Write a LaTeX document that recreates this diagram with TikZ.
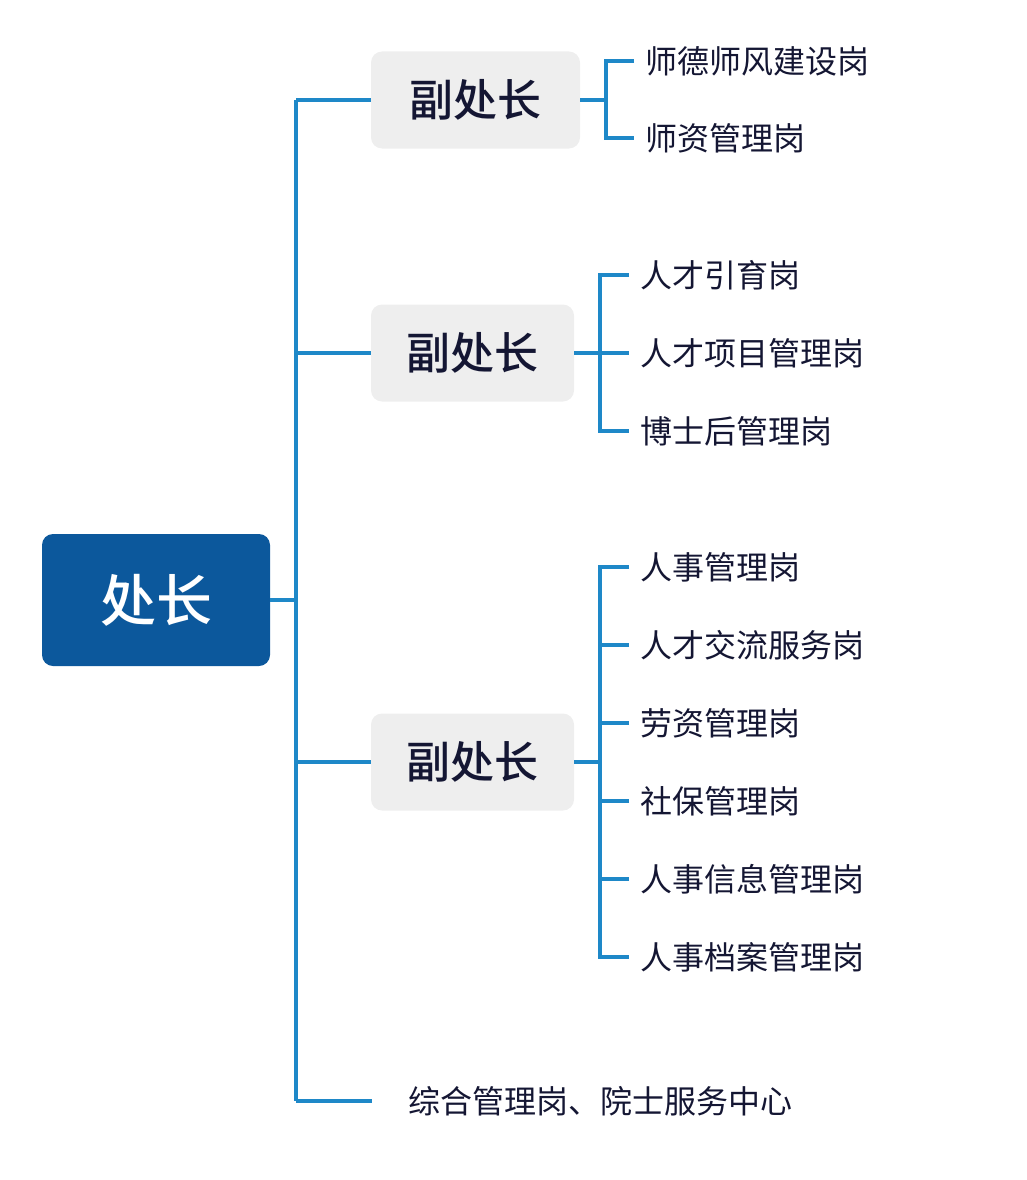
\documentclass[tikz,border=0pt]{standalone}
\usepackage{fontspec}
\setmainfont{Noto Sans CJK SC}
\newfontfamily\cjkmed{Noto Sans CJK SC Medium}
\begin{document}
\begin{tikzpicture}[x=1pt,y=-1pt,
  conn/.style={draw=lineblue,line width=3.4pt},
  bossbox/.style={fill=bossblue,rounded corners=11pt,minimum width=228pt,minimum height=132pt,inner sep=0pt,text=white,font=\cjkmed\fontsize{56}{60}\selectfont},
  depbox/.style={fill=boxgray,rounded corners=11pt,minimum height=97pt,inner sep=0pt,text=txtdark,font=\cjkmed\fontsize{44}{50}\selectfont},
  post/.style={anchor=west,inner xsep=11pt,inner ysep=0pt,text=txtdark,font=\fontsize{32}{36}\selectfont}]
\definecolor{lineblue}{HTML}{1E88C8}
\definecolor{bossblue}{HTML}{0C589C}
\definecolor{boxgray}{HTML}{EEEEEE}
\definecolor{txtdark}{HTML}{141633}
\useasboundingbox (0,0) rectangle (1026,1180);
% nodes
\node[bossbox] (boss) at (156,600) {处长};
\node[depbox,minimum width=209pt] (d1) at (475.5,100) {副处长};
\node[depbox,minimum width=203pt] (d2) at (472.5,353) {副处长};
\node[depbox,minimum width=203pt] (d3) at (472.5,762) {副处长};
% trunk
\coordinate (ttop) at (296,100);
\coordinate (tbot) at (296,1101);
\coordinate (tmid) at (296,600);
\draw[conn] (ttop) -- (tbot);
\draw[conn] (boss.east) -- (tmid);
\draw[conn] (ttop) -- (d1.west);
\draw[conn] (296,353) -- (d2.west);
\draw[conn] (296,762) -- (d3.west);
\node[post,inner xsep=36pt] (zh) at (372,1101) {综合管理岗、院士服务中心};
\draw[conn] (tbot) -- (zh.west);
% group 1
\node[post] (p11) at (634,61) {师德师风建设岗};
\node[post] (p12) at (634,138) {师资管理岗};
\coordinate (b1) at (606,100);
\draw[conn] (d1.east) -- (b1);
\draw[conn] (p11.west) -| (b1) |- (p12.west);
% group 2
\node[post] (p21) at (629,275) {人才引育岗};
\node[post] (p22) at (629,353) {人才项目管理岗};
\node[post] (p23) at (629,431) {博士后管理岗};
\coordinate (b2) at (600,353);
\draw[conn] (d2.east) -- (p22.west);
\draw[conn] (p21.west) -| (b2) |- (p23.west);
% group 3
\node[post] (p31) at (629,567) {人事管理岗};
\node[post] (p32) at (629,645) {人才交流服务岗};
\node[post] (p33) at (629,723) {劳资管理岗};
\node[post] (p34) at (629,801) {社保管理岗};
\node[post] (p35) at (629,879) {人事信息管理岗};
\node[post] (p36) at (629,957) {人事档案管理岗};
\coordinate (b3) at (600,762);
\draw[conn] (d3.east) -- (b3);
\draw[conn] (p31.west) -| (b3) |- (p36.west);
\foreach \n in {p32,p33,p34,p35} \draw[conn] (\n.west) -- (\n.west -| b3);
\end{tikzpicture}
\end{document}
